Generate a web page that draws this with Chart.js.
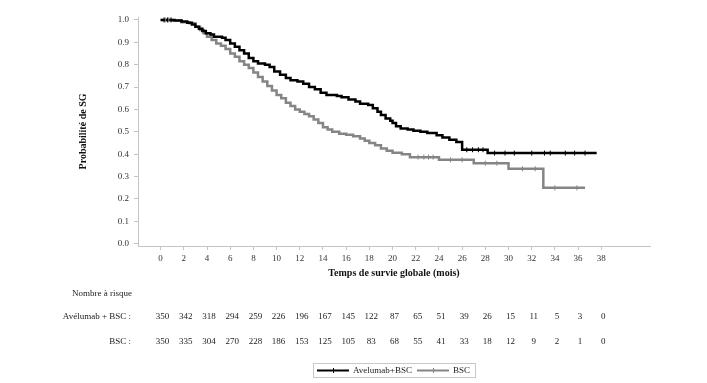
<!DOCTYPE html>
<html lang="fr">
<head>
<meta charset="utf-8">
<title>Survie globale</title>
<script src="https://cdn.jsdelivr.net/npm/chart.js@4.4.1/dist/chart.umd.min.js"></script>
<style>
  html, body { margin: 0; padding: 0; background: #fff; }
  canvas { display: block; }
</style>
</head>
<body>
<canvas id="km" width="707" height="383"></canvas>
<script>
// Kaplan-Meier curves (months, survival probability)
const avelTimes = [0, 0.8, 1.2, 1.8, 2.3, 2.7, 3.0, 3.3, 3.6, 3.9, 4.3, 4.6, 5.3, 5.6, 6.0, 6.4, 6.8, 7.2, 7.6, 8.0, 8.4, 9.0, 9.4, 9.8, 10.3, 10.8, 11.2, 11.8, 12.3, 12.8, 13.3, 13.8, 14.3, 15.2, 15.6, 16.2, 16.8, 17.2, 17.9, 18.3, 18.7, 19.0, 19.4, 19.8, 20.0, 20.3, 20.7, 21.3, 21.8, 22.4, 23.0, 23.8, 24.3, 24.9, 25.5, 26.0, 28.2, 37.6];
const avelSurv = [1.0, 1.0, 0.997, 0.993, 0.987, 0.98, 0.97, 0.96, 0.95, 0.94, 0.935, 0.925, 0.92, 0.91, 0.895, 0.88, 0.865, 0.85, 0.83, 0.815, 0.805, 0.80, 0.79, 0.77, 0.755, 0.74, 0.73, 0.725, 0.715, 0.70, 0.69, 0.675, 0.665, 0.66, 0.655, 0.645, 0.635, 0.625, 0.62, 0.605, 0.59, 0.575, 0.56, 0.55, 0.54, 0.525, 0.515, 0.51, 0.505, 0.50, 0.495, 0.485, 0.475, 0.465, 0.455, 0.42, 0.405, 0.405];

const bscTimes = [0, 1.0, 1.8, 2.5, 3.0, 3.4, 3.7, 4.0, 4.4, 4.8, 5.2, 5.6, 6.0, 6.4, 6.8, 7.2, 7.6, 8.0, 8.4, 8.8, 9.2, 9.6, 10.0, 10.4, 10.8, 11.2, 11.6, 12.0, 12.4, 12.8, 13.2, 13.6, 14.0, 14.4, 14.8, 15.4, 16.0, 16.6, 17.2, 17.6, 18.0, 18.5, 19.0, 19.5, 20.0, 20.8, 21.5, 24.0, 27.0, 30.0, 33.0, 36.6];
const bscSurv = [1.0, 0.997, 0.99, 0.985, 0.97, 0.955, 0.94, 0.925, 0.91, 0.895, 0.885, 0.87, 0.85, 0.835, 0.815, 0.80, 0.785, 0.765, 0.745, 0.725, 0.705, 0.685, 0.665, 0.65, 0.63, 0.615, 0.60, 0.59, 0.58, 0.57, 0.555, 0.54, 0.52, 0.51, 0.50, 0.492, 0.487, 0.48, 0.47, 0.46, 0.45, 0.44, 0.425, 0.415, 0.407, 0.40, 0.387, 0.375, 0.36, 0.335, 0.25, 0.25];

// censored observations
const avelCensorTimes = [0.3, 0.6, 0.9, 26.4, 26.9, 27.4, 27.8, 28.8, 29.7, 30.5, 32.0, 33.1, 33.6, 34.9, 35.7, 36.6];
const bscCensorTimes = [0.4, 0.7, 22.2, 22.7, 23.1, 23.5, 25.0, 26.0, 28.0, 29.0, 31.2, 32.3, 34.0, 35.9];

const xTicks = [0, 2, 4, 6, 8, 10, 12, 14, 16, 18, 20, 22, 24, 26, 28, 30, 32, 34, 36, 38];
const yTicks = [0, 0.1, 0.2, 0.3, 0.4, 0.5, 0.6, 0.7, 0.8, 0.9, 1.0];

// number at risk at each x tick
const riskAvel = [350, 342, 318, 294, 259, 226, 196, 167, 145, 122, 87, 65, 51, 39, 26, 15, 11, 5, 3, 0];
const riskBsc = [350, 335, 304, 270, 228, 186, 153, 125, 105, 83, 68, 55, 41, 33, 18, 12, 9, 2, 1, 0];

const seriesLabels = ["Avelumab+BSC", "BSC"];
const BLACK = "#000000";
const GREY = "#858585";
const SERIF = "'Liberation Serif', 'Times New Roman', serif";

function toPoints(times, surv) {
  return times.map((t, i) => ({ x: t, y: surv[i] }));
}

// survival value at a censor time, taken from the step curve
function stepValue(times, surv, t) {
  let v = surv[0];
  for (let i = 0; i < times.length; i++) {
    if (times[i] <= t) v = surv[i];
  }
  return v;
}

function censorPoints(censors, times, surv) {
  return censors.map((t) => ({ x: t, y: stepValue(times, surv, t) }));
}

const riskTable = {
  id: "riskTable",
  afterDraw(chart) {
    const ctx = chart.ctx;
    const x = chart.scales.x;
    ctx.save();
    ctx.fillStyle = "#222";
    ctx.font = "9px " + SERIF;
    ctx.textBaseline = "middle";

    ctx.textAlign = "left";
    ctx.fillText("Nombre à risque", 72, 294);
    ctx.textAlign = "right";
    ctx.fillText("Avélumab + BSC :", 131, 317);
    ctx.fillText("BSC :", 131, 342);

    ctx.textAlign = "center";
    xTicks.forEach((t, i) => {
      const px = x.getPixelForValue(t) + 2;
      ctx.fillText(String(riskAvel[i]), px, 317);
      ctx.fillText(String(riskBsc[i]), px, 342);
    });

    // legend box
    ctx.strokeStyle = "#c8c8c8";
    ctx.lineWidth = 1;
    ctx.strokeRect(313.5, 363.5, 162, 14);
    const items = [
      { color: BLACK, x0: 317, x1: 349, tx: 353, label: seriesLabels[0] },
      { color: GREY, x0: 417, x1: 449, tx: 453, label: seriesLabels[1] }
    ];
    items.forEach((it) => {
      ctx.strokeStyle = it.color;
      ctx.lineWidth = 2;
      ctx.beginPath();
      ctx.moveTo(it.x0, 370.5);
      ctx.lineTo(it.x1, 370.5);
      ctx.stroke();
      ctx.lineWidth = 1;
      ctx.beginPath();
      const mid = Math.round((it.x0 + it.x1) / 2) + 0.5;
      ctx.moveTo(mid, 368);
      ctx.lineTo(mid, 373);
      ctx.stroke();
      ctx.fillStyle = "#222";
      ctx.textAlign = "left";
      ctx.fillText(it.label, it.tx, 371);
    });
    ctx.restore();
  }
};

new Chart(document.getElementById("km"), {
  type: "line",
  data: {
    datasets: [
      {
        label: seriesLabels[0],
        data: toPoints(avelTimes, avelSurv),
        borderColor: BLACK,
        borderWidth: 2.5,
        stepped: true,
        pointRadius: 0,
        order: 1
      },
      {
        label: seriesLabels[1],
        data: toPoints(bscTimes, bscSurv),
        borderColor: GREY,
        borderWidth: 2.5,
        stepped: true,
        pointRadius: 0,
        order: 2
      },
      {
        label: "censor1",
        data: censorPoints(avelCensorTimes, avelTimes, avelSurv),
        showLine: false,
        pointStyle: "line",
        rotation: 90,
        pointRadius: 2.5,
        borderColor: BLACK,
        pointBorderWidth: 1,
        order: 0
      },
      {
        label: "censor2",
        data: censorPoints(bscCensorTimes, bscTimes, bscSurv),
        showLine: false,
        pointStyle: "line",
        rotation: 90,
        pointRadius: 2.5,
        borderColor: GREY,
        pointBorderWidth: 1,
        order: 0
      }
    ]
  },
  options: {
    responsive: false,
    animation: false,
    layout: { padding: { top: 17, right: 57, bottom: 103, left: 0 } },
    plugins: {
      legend: { display: false },
      tooltip: { enabled: false }
    },
    scales: {
      x: {
        type: "linear",
        min: -1.95,
        max: 42.2,
        afterBuildTicks: (s) => { s.ticks = xTicks.map((v) => ({ value: v })); },
        afterFit: (s) => { s.height = 34; },
        border: { color: "#c4c4c4", width: 1 },
        grid: { drawOnChartArea: false, tickLength: 4, color: "#c4c4c4" },
        ticks: {
          autoSkip: false,
          maxRotation: 0,
          padding: 3,
          color: "#333",
          font: { family: SERIF, size: 9 }
        },
        title: {
          display: true,
          text: "Temps de survie globale (mois)",
          color: "#111",
          font: { family: SERIF, size: 10, weight: "bold" },
          padding: { top: 0, bottom: 1 }
        }
      },
      y: {
        min: -0.01,
        max: 1.013,
        afterBuildTicks: (s) => { s.ticks = yTicks.map((v) => ({ value: v })); },
        afterFit: (s) => { s.width = 138; },
        border: { color: "#c4c4c4", width: 1 },
        grid: { drawOnChartArea: false, tickLength: 4, color: "#c4c4c4" },
        ticks: {
          padding: 5,
          color: "#333",
          font: { family: SERIF, size: 9 },
          callback: (v) => Number(v).toFixed(1)
        },
        title: {
          display: true,
          text: "Probabilité de SG",
          color: "#111",
          font: { family: SERIF, size: 10, weight: "bold" },
          padding: { top: 77, bottom: 0 }
        }
      }
    }
  },
  plugins: [riskTable]
});
</script>
</body>
</html>
